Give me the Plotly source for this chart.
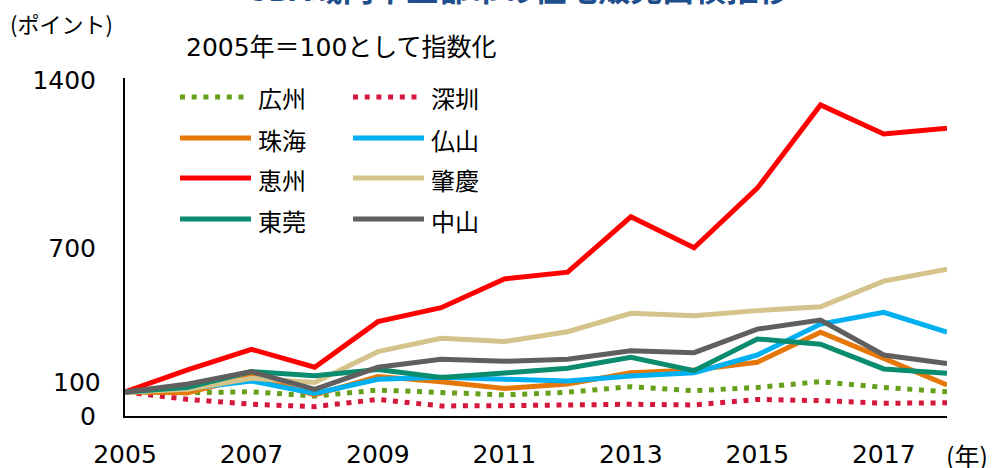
import plotly.graph_objects as go

# ---------------- data ----------------
years = list(range(2005, 2019))
cities = ["広州", "深圳", "珠海", "仏山", "恵州", "肇慶", "東莞", "中山"]
guangzhou = [100, 97, 101, 83, 108, 97, 88, 99, 122, 105, 119, 143, 119, 101]
shenzhen = [100, 69, 49, 39, 69, 42, 43, 46, 49, 46, 69, 64, 53, 55]
zhuhai = [100, 97, 165, 88, 164, 143, 115, 133, 180, 192, 224, 349, 240, 129]
foshan = [100, 115, 146, 94, 153, 161, 153, 146, 167, 180, 254, 383, 432, 349]
huizhou = [100, 193, 278, 203, 393, 451, 571, 599, 830, 701, 949, 1296, 1175, 1199]
zhaoqing = [100, 111, 157, 140, 268, 324, 310, 351, 428, 418, 439, 455, 562, 612]
dongguan = [100, 120, 185, 168, 194, 160, 179, 199, 245, 189, 321, 299, 196, 178]
zhongshan = [100, 133, 185, 111, 203, 236, 228, 236, 272, 264, 362, 400, 254, 219]
series = [guangzhou, shenzhen, zhuhai, foshan, huizhou, zhaoqing, dongguan, zhongshan]

x_tickvals = [2005, 2007, 2009, 2011, 2013, 2015, 2017]
y_tickvals = [0, 700, 1400]
title_text = "GBA域内本土都市の住宅販売面積推移"
unit_text = "(ポイント)"
note_text = "2005年＝100として指数化"
year_unit = "(年)"

# ---------------- styles ----------------
colors = ["#66A01A", "#D6173C", "#E6780A", "#00B0F0", "#FF0000", "#D5C38C", "#0A8C6E", "#5F5F5F"]
dotted = [True, True, False, False, False, False, False, False]
DOT = "5px,6.7px"
LW = 5

W, H = 994, 468
L, R, T, B = 125, 47, 78, 52
PW, PH = W - L - R, H - T - B


def px(xp):
    return (xp - L) / PW


def py(yp):
    return (H - B - yp) / PH


CJK = "Noto Sans CJK JP"
NUM = "DejaVu Sans, Noto Sans CJK JP"

fig = go.Figure()
for name, vals, c, d in zip(cities, series, colors, dotted):
    fig.add_trace(go.Scatter(
        x=years, y=vals, name=name, mode="lines",
        line=dict(color=c, width=LW, dash=DOT if d else "solid"),
        hoverinfo="x+y+name",
    ))

fig.update_layout(
    width=W, height=H,
    margin=dict(l=L, r=R, t=T, b=B, autoexpand=False),
    paper_bgcolor="white", plot_bgcolor="white",
    showlegend=False,
    xaxis=dict(range=[2005, 2018], tickvals=x_tickvals, showgrid=False, zeroline=False,
               showline=True, linecolor="black", linewidth=2, ticks="", automargin=False,
               tickfont=dict(family=NUM, size=25, color="black"), ticklabelstandoff=15),
    yaxis=dict(range=[0, 1408], tickvals=y_tickvals, showgrid=False, zeroline=False,
               showline=True, linecolor="black", linewidth=2, ticks="", automargin=False,
               tickfont=dict(family=NUM, size=25, color="black"), ticklabelstandoff=22),
)

ann = []
# y label "100" (slightly raised as in the original)
ann.append(dict(x=0, xref="paper", y=100, yref="y", text="100", showarrow=False,
                xanchor="right", yanchor="middle", xshift=-22, yshift=9,
                font=dict(family=NUM, size=25, color="black")))
# title (clipped at top)
ann.append(dict(x=px(517), xref="paper", y=py(-13), yref="paper", text="<b>" + title_text + "</b>",
                showarrow=False, xanchor="center", yanchor="middle",
                font=dict(family=CJK, size=32, color="#1F4E8C")))
ann.append(dict(x=px(8), xref="paper", y=py(23), yref="paper", text=unit_text, showarrow=False,
                xanchor="left", yanchor="middle", font=dict(family=CJK, size=22, color="black")))
ann.append(dict(x=px(184), xref="paper", y=py(47), yref="paper", text=note_text, showarrow=False,
                xanchor="left", yanchor="middle", font=dict(family=NUM, size=25, color="black")))
ann.append(dict(x=px(967), xref="paper", y=py(455), yref="paper", text=year_unit, showarrow=False,
                xanchor="center", yanchor="middle", font=dict(family=CJK, size=25, color="black")))

# manual legend (2 columns)
shapes = []
col_x = [180, 353]
row_y = [97, 138, 178, 219]
for i, (name, c, d) in enumerate(zip(cities, colors, dotted)):
    cx = col_x[i % 2]
    ry = row_y[i // 2]
    shapes.append(dict(type="line", xref="paper", yref="paper",
                       x0=px(cx), x1=px(cx + (66 if d else 71)), y0=py(ry), y1=py(ry),
                       line=dict(color=c, width=LW, dash=DOT if d else "solid")))
    ann.append(dict(x=px(cx + 76), xref="paper", y=py(ry + 1), yref="paper", text=name,
                    showarrow=False, xanchor="left", yanchor="middle",
                    font=dict(family=CJK, size=24, color="black")))

fig.update_layout(annotations=ann, shapes=shapes)
fig.write_html(
    "out.html",
    config={"displayModeBar": False},
    post_script="document.body.style.margin='0';document.body.style.overflow='hidden';",
)
